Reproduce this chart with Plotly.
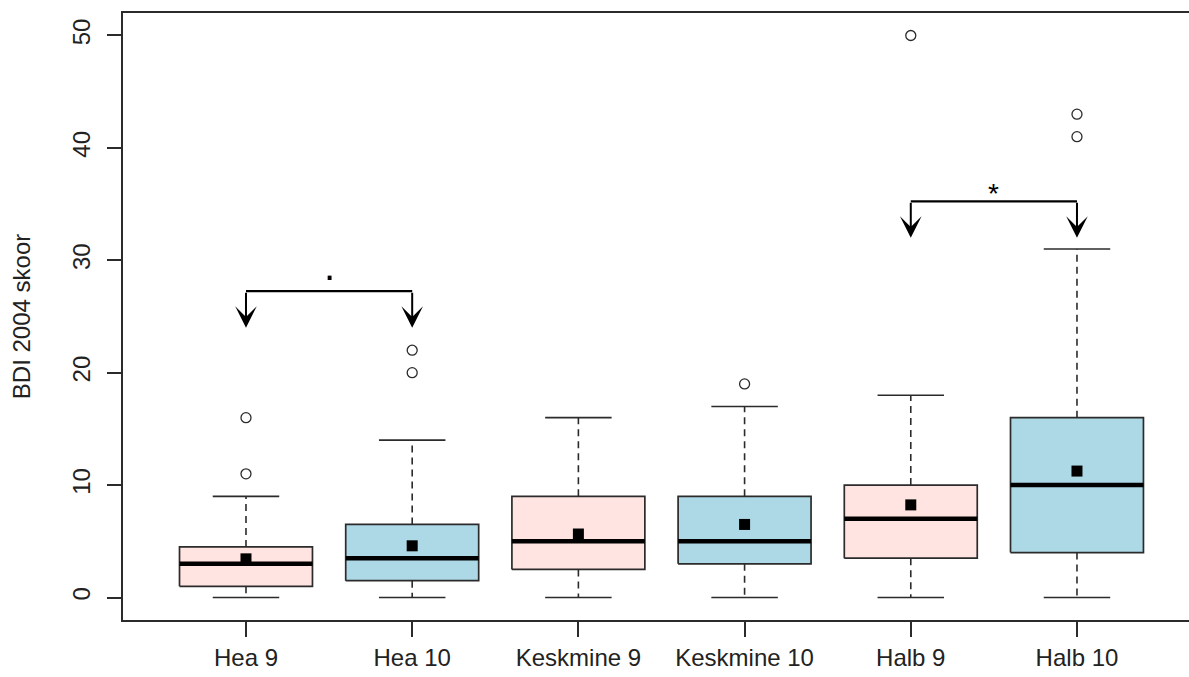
import plotly.graph_objects as go

# Box statistics per group (BDI 2004 score)
groups = ["Hea 9", "Hea 10", "Keskmine 9", "Keskmine 10", "Halb 9", "Halb 10"]
lower_whisker = [0, 0, 0, 0, 0, 0]
q1 = [1, 1.5, 2.5, 3, 3.5, 4]
median = [3, 3.5, 5, 5, 7, 10]
q3 = [4.5, 6.5, 9, 9, 10, 16]
upper_whisker = [9, 14, 16, 17, 18, 31]
means = [3.44, 4.6, 5.65, 6.5, 8.24, 11.25]
outliers = [[11, 16], [20, 22], [], [19], [50], [41, 43]]
fill_colors = ["#FFE4E1", "#ADD8E6", "#FFE4E1", "#ADD8E6", "#FFE4E1", "#ADD8E6"]

# Significance brackets between group pairs (1-based positions)
pair_left = [1, 5]
pair_right = [2, 6]
bracket_top = [27.25, 35.25]
bracket_tip = [24.0, 32.0]
sig_labels = [".", "*"]
sig_label_y = [29.45, 35.95]
sig_label_size = [40, 28]

y_ticks = [0, 10, 20, 30, 40, 50]

FONT = "Liberation Sans, Arial, sans-serif"
LINE = "#2b2b2b"
BOX_HALF = 0.4
CAP_HALF = 0.2

fig = go.Figure()

for i, name in enumerate(groups):
    x = i + 1
    # box body
    fig.add_trace(go.Scatter(
        x=[x - BOX_HALF, x + BOX_HALF, x + BOX_HALF, x - BOX_HALF, x - BOX_HALF],
        y=[q1[i], q1[i], q3[i], q3[i], q1[i]],
        mode="lines", fill="toself", fillcolor=fill_colors[i],
        line=dict(color=LINE, width=1.7), hoverinfo="skip", showlegend=False))
    # dashed whiskers
    for a, b in ((q3[i], upper_whisker[i]), (q1[i], lower_whisker[i])):
        fig.add_trace(go.Scatter(
            x=[x, x], y=[a, b], mode="lines",
            line=dict(color=LINE, width=1.6, dash="7px,5px"),
            hoverinfo="skip", showlegend=False))
    # whisker caps
    for v in (upper_whisker[i], lower_whisker[i]):
        fig.add_trace(go.Scatter(
            x=[x - CAP_HALF, x + CAP_HALF], y=[v, v], mode="lines",
            line=dict(color=LINE, width=1.6), hoverinfo="skip", showlegend=False))
    # median
    fig.add_trace(go.Scatter(
        x=[x - BOX_HALF, x + BOX_HALF], y=[median[i], median[i]], mode="lines",
        line=dict(color="black", width=4.5), hoverinfo="skip", showlegend=False))

# group means
fig.add_trace(go.Scatter(
    x=list(range(1, len(groups) + 1)), y=means, mode="markers",
    marker=dict(symbol="square", size=11, color="black"),
    showlegend=False))

# outliers
ox, oy = [], []
for i, vals in enumerate(outliers):
    for v in vals:
        ox.append(i + 1)
        oy.append(v)
fig.add_trace(go.Scatter(
    x=ox, y=oy, mode="markers",
    marker=dict(symbol="circle-open", size=10, color=LINE, line=dict(width=1.3)),
    showlegend=False))

# significance brackets
annotations = []
for l, r, top, tip, lab, ly, fs in zip(pair_left, pair_right, bracket_top, bracket_tip,
                                       sig_labels, sig_label_y, sig_label_size):
    fig.add_trace(go.Scatter(
        x=[l, r], y=[top, top], mode="lines",
        line=dict(color="black", width=2.2), hoverinfo="skip", showlegend=False))
    for xx in (l, r):
        annotations.append(dict(
            x=xx, y=tip, ax=xx, ay=top, xref="x", yref="y", axref="x", ayref="y",
            showarrow=True, arrowhead=3, arrowwidth=2, arrowsize=1.8,
            arrowcolor="black", text=""))
    annotations.append(dict(
        x=(l + r) / 2, y=ly, xref="x", yref="y", text=lab, showarrow=False,
        font=dict(family=FONT, size=fs, color="black"), yanchor="middle"))

fig.update_layout(
    width=1189, height=677,
    margin=dict(l=123, r=0, t=12.5, b=57),
    paper_bgcolor="white", plot_bgcolor="white",
    font=dict(family=FONT, size=24, color="#222222"),
    annotations=annotations,
    xaxis=dict(
        range=[0.26, 6.674], tickmode="array",
        tickvals=list(range(1, len(groups) + 1)), ticktext=groups,
        ticks="outside", ticklen=15, tickwidth=1.5, tickcolor=LINE,
        showline=True, linecolor=LINE, linewidth=1.5, mirror=True,
        showgrid=False, zeroline=False,
        tickfont=dict(family=FONT, size=24, color="#222222")),
    yaxis=dict(
        range=[-2, 52], tickmode="array", tickvals=y_ticks,
        ticktext=[str(v) for v in y_ticks], tickangle=-90,
        ticks="outside", ticklen=14, tickwidth=1.5, tickcolor=LINE,
        showline=True, linecolor=LINE, linewidth=1.5,
        showgrid=False, zeroline=False, ticklabelstandoff=8,
        tickfont=dict(family=FONT, size=24, color="#222222"),
        title=dict(text="BDI 2004 skoor", standoff=30,
                   font=dict(family=FONT, size=24, color="#222222"))),
)

fig.write_html("out.html")
